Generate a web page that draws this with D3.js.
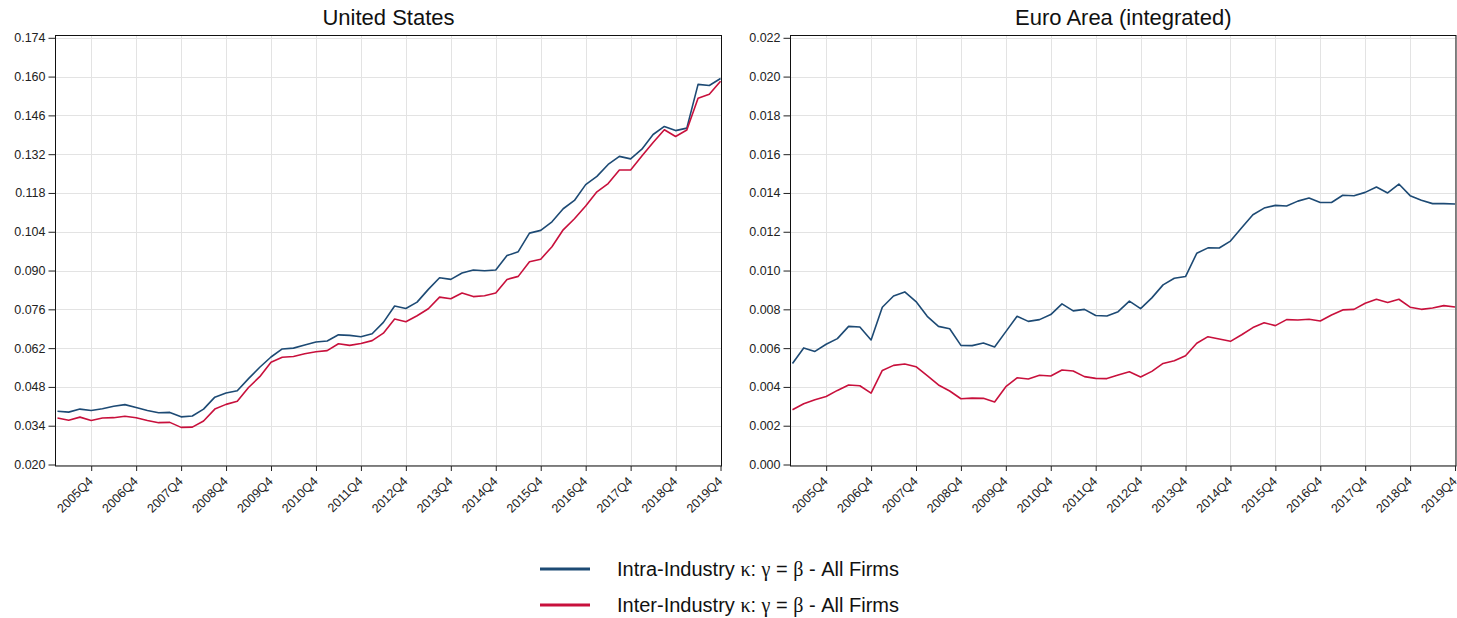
<!DOCTYPE html>
<html>
<head>
<meta charset="utf-8">
<script src="https://cdn.jsdelivr.net/npm/d3@7"></script>
<style>
  body { margin: 0; background: #fff; }
  svg { font-family: "Liberation Sans", Arial, sans-serif; }
  .grid line { stroke: #e3e3e3; stroke-width: 1; }
  .axis text { fill: #222; }
  .axis path, .axis line { stroke: #222; }
</style>
</head>
<body>
<div id="chart"></div>
<script>
// quarters 2005Q1 .. 2019Q4
const years = d3.range(2005, 2020);
const quarters = years.flatMap(y => ["Q1", "Q2", "Q3", "Q4"].map(q => y + q));

// United States
const usIntra = [
  0.0392, 0.0389, 0.0400, 0.0395, 0.0401, 0.0410, 0.0416, 0.0406, 0.0395, 0.0387,
  0.0388, 0.0372, 0.0375, 0.0400, 0.0443, 0.0458, 0.0466, 0.0510, 0.0551, 0.0588,
  0.0617, 0.0620, 0.0631, 0.0642, 0.0646, 0.0668, 0.0666, 0.0661, 0.0672, 0.0713,
  0.0772, 0.0763, 0.0786, 0.0832, 0.0874, 0.0868, 0.0891, 0.0902, 0.0899, 0.0902,
  0.0954, 0.0968, 0.1035, 0.1045, 0.1076, 0.1123, 0.1153, 0.1210, 0.1240, 0.1283,
  0.1312, 0.1303, 0.1338, 0.1391, 0.1420, 0.1405, 0.1414, 0.1572, 0.1568, 0.1593
];
const usInter = [
  0.0368, 0.0360, 0.0371, 0.0359, 0.0368, 0.0369, 0.0374, 0.0369, 0.0359, 0.0351,
  0.0352, 0.0334, 0.0335, 0.0357, 0.0400, 0.0417, 0.0428, 0.0478, 0.0517, 0.0569,
  0.0587, 0.0590, 0.0600, 0.0607, 0.0611, 0.0636, 0.0630, 0.0637, 0.0647, 0.0674,
  0.0725, 0.0715, 0.0737, 0.0762, 0.0804, 0.0798, 0.0819, 0.0806, 0.0809, 0.0819,
  0.0868, 0.0879, 0.0932, 0.0941, 0.0986, 0.1047, 0.1087, 0.1133, 0.1184, 0.1214,
  0.1263, 0.1263, 0.1313, 0.1362, 0.1408, 0.1384, 0.1407, 0.1522, 0.1536, 0.1583
];

// Euro Area (integrated)
const euIntra = [
  0.00521, 0.00601, 0.00583, 0.00620, 0.00649, 0.00712, 0.00709, 0.00642, 0.00811, 0.00869,
  0.00890, 0.00840, 0.00764, 0.00712, 0.00700, 0.00614, 0.00613, 0.00626, 0.00606, 0.00685,
  0.00764, 0.00738, 0.00747, 0.00773, 0.00828, 0.00792, 0.00800, 0.00768, 0.00766, 0.00788,
  0.00842, 0.00804, 0.00859, 0.00926, 0.00960, 0.00969, 0.01089, 0.01117, 0.01116, 0.01152,
  0.01221, 0.01288, 0.01322, 0.01336, 0.01333, 0.01358, 0.01374, 0.01351, 0.01351, 0.01388,
  0.01386, 0.01403, 0.01431, 0.01400, 0.01446, 0.01386, 0.01362, 0.01345, 0.01345, 0.01343
];
const euInter = [
  0.00282, 0.00313, 0.00334, 0.00351, 0.00382, 0.00410, 0.00406, 0.00368, 0.00485, 0.00511,
  0.00518, 0.00504, 0.00458, 0.00410, 0.00379, 0.00339, 0.00342, 0.00341, 0.00322, 0.00401,
  0.00447, 0.00441, 0.00460, 0.00456, 0.00487, 0.00482, 0.00453, 0.00444, 0.00443, 0.00461,
  0.00478, 0.00451, 0.00480, 0.00521, 0.00535, 0.00561, 0.00625, 0.00659, 0.00647, 0.00635,
  0.00669, 0.00706, 0.00731, 0.00716, 0.00747, 0.00745, 0.00749, 0.00740, 0.00771, 0.00797,
  0.00800, 0.00831, 0.00852, 0.00835, 0.00852, 0.00811, 0.00800, 0.00807, 0.00819, 0.00812
];

const usTicks = [0.020, 0.034, 0.048, 0.062, 0.076, 0.090, 0.104, 0.118, 0.132, 0.146, 0.160, 0.174];
const euTicks = [0.000, 0.002, 0.004, 0.006, 0.008, 0.010, 0.012, 0.014, 0.016, 0.018, 0.020, 0.022];

const seriesNames = ["Intra-Industry", "Inter-Industry"];
const colors = ["#1d4a74", "#c8103c"];

const W = 1457, H = 618;
const svg = d3.select("#chart").append("svg")
  .attr("width", W)
  .attr("height", H);

const plotTop = 35, plotBottom = 466.5;
const xTickIdx = quarters.map((q, i) => i).filter(i => quarters[i].endsWith("Q4"));

function panel(opts) {
  const x = d3.scaleLinear()
    .domain([-0.22, quarters.length - 1 + 0.13])
    .range([opts.left, opts.right]);
  const y = d3.scaleLinear()
    .domain([opts.ticks[0], opts.ticks[opts.ticks.length - 1]])
    .range([464.5, 37.8]);

  const g = svg.append("g");

  // gridlines
  const grid = g.append("g").attr("class", "grid");
  grid.selectAll(".h").data(opts.ticks).enter().append("line")
    .attr("x1", opts.left).attr("x2", opts.right)
    .attr("y1", d => Math.round(y(d)) + 0.5).attr("y2", d => Math.round(y(d)) + 0.5);
  grid.selectAll(".v").data(xTickIdx).enter().append("line")
    .attr("x1", d => Math.round(x(d)) + 0.5).attr("x2", d => Math.round(x(d)) + 0.5)
    .attr("y1", plotTop).attr("y2", plotBottom);

  // lines
  const line = d3.line()
    .x((d, i) => x(i))
    .y(d => y(d));
  opts.series.forEach((s, k) => {
    g.append("path")
      .datum(s)
      .attr("fill", "none")
      .attr("stroke", colors[k])
      .attr("stroke-width", 1.6)
      .attr("stroke-linejoin", "round")
      .attr("d", line);
  });

  // frame
  g.append("rect")
    .attr("x", opts.left + 0.5).attr("y", plotTop + 0.5)
    .attr("width", opts.right - opts.left - 1).attr("height", plotBottom - plotTop - 1)
    .attr("fill", "none")
    .attr("stroke", "#111")
    .attr("stroke-width", 1);

  // y axis
  g.append("g")
    .attr("class", "axis")
    .attr("transform", "translate(" + (opts.left + 0.5) + ",0)")
    .call(d3.axisLeft(y).tickValues(opts.ticks).tickFormat(d3.format(".3f")).tickSize(7).tickPadding(3))
    .call(a => a.select(".domain").remove())
    .selectAll("text")
    .style("font-size", "12.5px");

  // x axis
  g.append("g")
    .attr("class", "axis")
    .attr("transform", "translate(0," + (plotBottom - 0.5) + ")")
    .call(d3.axisBottom(x).tickValues(xTickIdx).tickFormat(i => quarters[i]).tickSize(5))
    .call(a => a.select(".domain").remove())
    .selectAll("text")
    .style("font-size", "12.5px")
    .attr("text-anchor", "end")
    .attr("x", 0).attr("y", 0).attr("dy", "0.35em")
    .attr("transform", "translate(-1,13) rotate(-45)");

  // title
  svg.append("text")
    .attr("x", (opts.left + opts.right) / 2)
    .attr("y", 25)
    .attr("text-anchor", "middle")
    .style("font-size", "22px")
    .style("fill", "#111")
    .text(opts.title);
}

panel({ title: "United States", left: 55, right: 722, ticks: usTicks, series: [usIntra, usInter] });
panel({ title: "Euro Area (integrated)", left: 790, right: 1456.5, ticks: euTicks, series: [euIntra, euInter] });

// legend
const legend = svg.append("g");
seriesNames.forEach((name, k) => {
  const ly = 569 + k * 36;
  legend.append("line")
    .attr("x1", 540).attr("x2", 590)
    .attr("y1", ly).attr("y2", ly)
    .attr("stroke", colors[k])
    .attr("stroke-width", 3);
  const t = legend.append("text")
    .attr("x", 617)
    .attr("y", ly + 6.5)
    .style("font-size", "20px")
    .style("fill", "#111");
  t.append("tspan").text(name + " ");
  t.append("tspan").style("font-family", "'Liberation Serif', serif").text("κ");
  t.append("tspan").text(": ");
  t.append("tspan").style("font-family", "'Liberation Serif', serif").text("γ");
  t.append("tspan").text(" = ");
  t.append("tspan").style("font-family", "'Liberation Serif', serif").text("β");
  t.append("tspan").text(" - All Firms");
});
</script>
</body>
</html>
